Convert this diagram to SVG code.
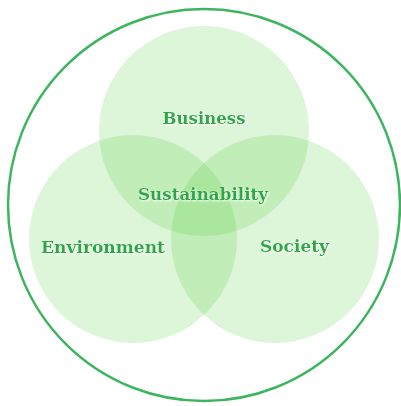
<svg xmlns="http://www.w3.org/2000/svg" width="401" height="406" viewBox="0 0 401 406">
<defs>
<style>
.c{fill:#55cd3c;fill-opacity:0.2}
.t{font-family:"DejaVu Serif","Liberation Serif",serif;font-size:17px;font-weight:bold;fill:#2aa84a;text-anchor:middle;filter:url(#glow)}
</style>
<filter id="glow" x="-20%" y="-50%" width="140%" height="200%">
<feDropShadow dx="1" dy="1" stdDeviation="1" flood-color="#ffffff" flood-opacity="1"/>
</filter>
</defs>
<rect width="401" height="406" fill="#ffffff"/>
<g id="outer"><circle cx="204" cy="205" r="196" fill="none" stroke="#3db55e" stroke-width="2.5"/></g>
<g id="business"><circle class="c" cx="204" cy="131" r="105"/><text class="t" x="204" y="124" textLength="83" lengthAdjust="spacingAndGlyphs">Business</text></g>
<g id="environment"><circle class="c" cx="133" cy="239" r="104"/><text class="t" x="103" y="253" textLength="124" lengthAdjust="spacingAndGlyphs">Environment</text></g>
<g id="society"><circle class="c" cx="275" cy="239" r="104"/><text class="t" x="294.5" y="252" textLength="69" lengthAdjust="spacingAndGlyphs">Society</text></g>
<g id="sustainability"><text class="t" x="203" y="200" textLength="130" lengthAdjust="spacingAndGlyphs">Sustainability</text></g>
</svg>
